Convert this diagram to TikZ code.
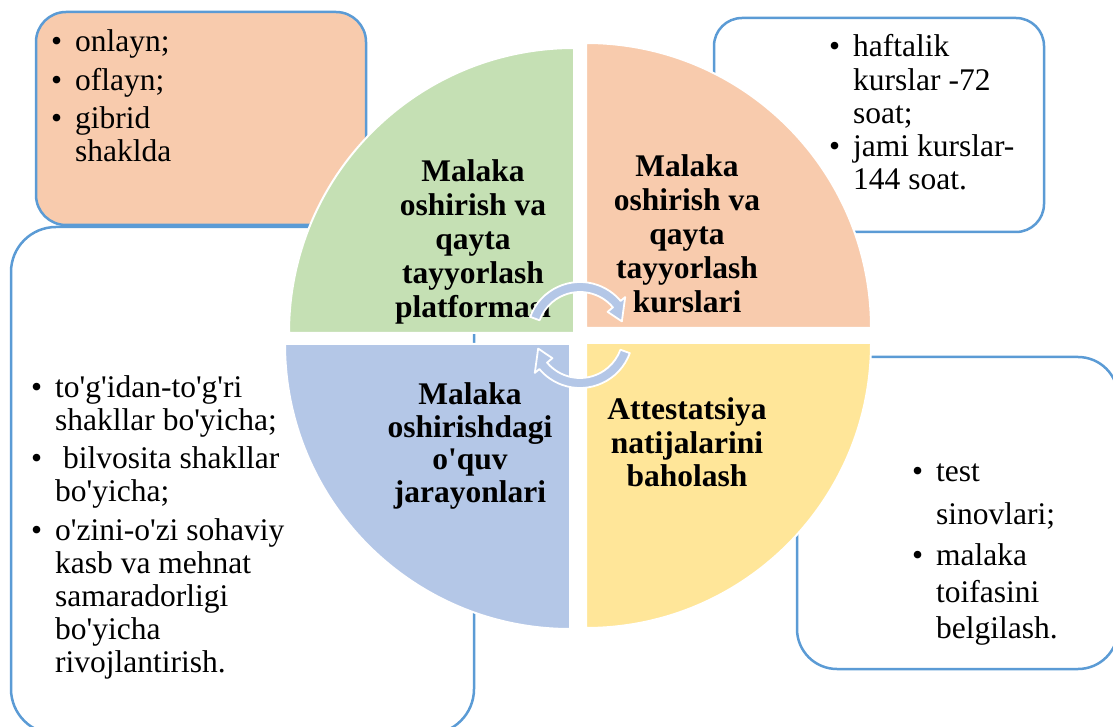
\documentclass[tikz,border=0pt]{standalone}
\usepackage{fontspec}
\setmainfont{Liberation Serif}[Ligatures=TeXOff]
\definecolor{boxblue}{HTML}{5B9BD5}
\definecolor{peach}{HTML}{F8CBAD}
\definecolor{sgreen}{HTML}{C5E0B4}
\definecolor{sblue}{HTML}{B4C7E7}
\definecolor{syellow}{HTML}{FFE699}
\definecolor{arrowblue}{HTML}{B4C7E7}
\newcommand{\bul}{\leavevmode\llap{\textbullet\hspace{13pt}}}
\begin{document}
\begin{tikzpicture}[x=1pt,y=1pt,
  infobox/.style={draw=boxblue, line width=2.5pt},
  sector/.style={draw=white, line width=2pt},
  listtext/.style={inner sep=0pt, anchor=base west},
  titletext/.style={inner sep=0pt, anchor=base},
  cyclearrow/.style={fill=arrowblue, draw=white, line width=1.8pt, line join=round}]
\useasboundingbox (0,0) rectangle (1113,726);
\clip (0,0) rectangle (1113,726);
% boxes
\draw[infobox, fill=peach, rounded corners=30pt] (36,501) rectangle (366,714);
\draw[infobox, fill=white, rounded corners=28pt] (714,494) rectangle (1044,708);
\draw[infobox, fill=white, rounded corners=45pt] (11,-8) rectangle (474,499);
\draw[infobox, fill=white, rounded corners=40pt] (797,57) rectangle (1118,369);
% list texts
\node[listtext] (tl) at (75,674) {\parbox[t]{280pt}{\raggedright\fontsize{31.5}{33}\selectfont
\bul onlayn;\\[6pt]
\bul oflayn;\\[5pt]
\bul gibrid\\
shaklda}};
\node[listtext] (tr) at (853,669) {\parbox[t]{190pt}{\raggedright\fontsize{31.5}{33.5}\selectfont
\bul haftalik\\
kurslar -72\\
soat;\\[-1pt]
\bul jami kurslar-\\
144 soat.}};
\node[listtext] (bl) at (55,328) {\parbox[t]{400pt}{\raggedright\fontsize{31.5}{33}\selectfont
\bul to'g'idan-to'g'ri\\
shakllar bo'yicha;\\[5pt]
\bul\hspace{8pt}bilvosita shakllar\\
bo'yicha;\\[6pt]
\bul o'zini-o'zi sohaviy\\
kasb va mehnat\\
samaradorligi\\
bo'yicha\\
rivojlantirish.}};
\node[listtext] (br) at (936,244) {\parbox[t]{170pt}{\raggedright\fontsize{31.5}{36.5}\selectfont
\bul test\\[6pt]
sinovlari;\\[5pt]
\bul malaka\\
toifasini\\
belgilash.}};
% sectors
\coordinate (cg) at (574,393);
\coordinate (co) at (586,398);
\coordinate (cb) at (570,382);
\coordinate (cy) at (586,383);
\filldraw[sector, fill=sgreen] (cg) -- ++(90:285) arc[start angle=90, end angle=180, radius=285] -- cycle;
\filldraw[sector, fill=peach] (co) -- ++(0:285) arc[start angle=0, end angle=90, radius=285] -- cycle;
\filldraw[sector, fill=sblue] (cb) -- ++(180:285) arc[start angle=180, end angle=270, radius=285] -- cycle;
\filldraw[sector, fill=syellow] (cy) -- ++(270:285) arc[start angle=270, end angle=360, radius=285] -- cycle;
% titles
\node[titletext] (tg) at (473,544) {\parbox[t]{260pt}{\centering\bfseries\fontsize{31.5}{34}\selectfont
Malaka\\ oshirish va\\ qayta\\ tayyorlash\\ platformasi}};
\node[titletext] (to) at (687,549) {\parbox[t]{260pt}{\centering\bfseries\fontsize{31.5}{34}\selectfont
Malaka\\ oshirish va\\ qayta\\ tayyorlash\\ kurslari}};
\node[titletext] (tb) at (470,321) {\parbox[t]{260pt}{\centering\bfseries\fontsize{31.5}{32.5}\selectfont
Malaka\\ oshirishdagi\\ o'quv\\ jarayonlari}};
\node[titletext] (ty) at (687,306) {\parbox[t]{260pt}{\centering\bfseries\fontsize{31.5}{33.5}\selectfont
Attestatsiya\\ natijalarini\\ baholash}};
% cycle arrows
\begin{scope}[shift={(580,391)}]
\filldraw[cyclearrow] (160:53) arc[start angle=160, end angle=40, radius=53] -- (40:59) -- (18:44) -- (40:36) -- (40:43) arc[start angle=40, end angle=160, radius=43] -- cycle;
\end{scope}
\begin{scope}[shift={(580,391)}, rotate=180]
\filldraw[cyclearrow] (160:53) arc[start angle=160, end angle=40, radius=53] -- (40:59) -- (18:44) -- (40:36) -- (40:43) arc[start angle=40, end angle=160, radius=43] -- cycle;
\end{scope}
\end{tikzpicture}
\end{document}
